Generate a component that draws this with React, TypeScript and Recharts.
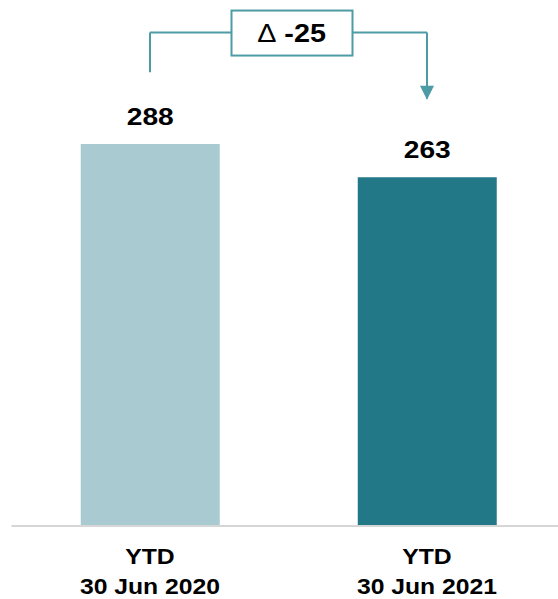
import { BarChart, Bar, XAxis, YAxis, Cell, LabelList, ReferenceLine } from "recharts";

const categories = ["YTD\n30 Jun 2020", "YTD\n30 Jun 2021"];
const values = [288, 263];
const barColors = ["#a8cad0", "#237887"];

// delta bracket, in value units
const deltaSymbol = "Δ";
const deltaValue = "-25";
const bracketLeftBottom = 342;
const bracketTop = 372;
const arrowTip = 320;

const data = categories.map((name, i) => ({ name, value: values[i] }));

const lineColor = "#4d9ba5";
const font = "'Liberation Sans', Arial, sans-serif";
const stretch = 1.15; // text in the source is a bit wide

function WideText({ x, y, size, children }: any) {
  return (
    <text
      transform={`translate(${x},${y}) scale(${stretch},1)`}
      textAnchor="middle"
      fontFamily={font}
      fontWeight="bold"
      fontSize={size}
      fill="#000"
    >
      {children}
    </text>
  );
}

function CategoryTick({ x, y, payload }: any) {
  const lines = String(payload.value).split("\n");
  return (
    <g>
      {lines.map((l, i) => (
        <WideText key={i} x={x} y={y + 38 + i * 30} size={21.5}>
          {l}
        </WideText>
      ))}
    </g>
  );
}

function ValueLabel({ x, y, width, value }: any) {
  return (
    <WideText x={x + width / 2} y={y - 19} size={24.5}>
      {value}
    </WideText>
  );
}

function DeltaBox({ viewBox }: any) {
  const cx = viewBox.x + viewBox.width / 2 + 3;
  const cy = viewBox.y;
  return (
    <g>
      <rect x={cx - 60} y={cy - 22} width={121} height={45} fill="#fff" stroke={lineColor} strokeWidth={2} />
      <WideText x={cx} y={cy + 9} size={25}>
        <tspan fontWeight="normal">{deltaSymbol}</tspan> {deltaValue}
      </WideText>
    </g>
  );
}

function ArrowHead({ viewBox }: any) {
  const x = viewBox.x;
  const tip = viewBox.y + viewBox.height + 1;
  return <polygon points={`${x - 7},${tip - 14} ${x + 7},${tip - 14} ${x},${tip}`} fill={lineColor} />;
}

export default function App() {
  return (
    <div style={{ position: "absolute", left: 0, top: 0, width: 558, height: 599, overflow: "hidden", background: "#fff" }}>
      <BarChart
        width={566}
        height={599}
        data={data}
        margin={{ top: 10, right: 0.5, left: 11.5, bottom: 0 }}
        barCategoryGap="25%"
      >
        <XAxis
          dataKey="name"
          interval={0}
          tickLine={false}
          tickSize={0}
          tickMargin={0}
          axisLine={{ stroke: "#d6d6d6", strokeWidth: 2 }}
          tick={(p: any) => <CategoryTick {...p} />}
          height={73}
        />
        <YAxis hide domain={[0, 389]} />
        <Bar dataKey="value" isAnimationActive={false}>
          {data.map((d, i) => (
            <Cell key={d.name} fill={barColors[i]} />
          ))}
          <LabelList dataKey="value" content={<ValueLabel />} />
        </Bar>
        <ReferenceLine
          segment={[
            { x: categories[0], y: bracketLeftBottom },
            { x: categories[0], y: bracketTop },
          ]}
          stroke={lineColor}
          strokeWidth={2}
        />
        <ReferenceLine
          segment={[
            { x: categories[1], y: bracketTop },
            { x: categories[1], y: arrowTip + 2 },
          ]}
          stroke={lineColor}
          strokeWidth={2}
          label={<ArrowHead />}
        />
        <ReferenceLine
          segment={[
            { x: categories[0], y: bracketTop },
            { x: categories[1], y: bracketTop },
          ]}
          stroke={lineColor}
          strokeWidth={2}
          label={<DeltaBox />}
        />
      </BarChart>
    </div>
  );
}
